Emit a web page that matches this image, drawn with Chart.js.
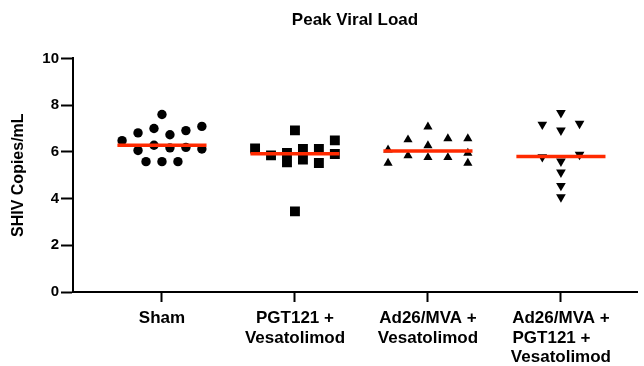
<!DOCTYPE html>
<html>
<head>
<meta charset="utf-8">
<script src="https://cdn.jsdelivr.net/npm/chart.js@4/dist/chart.umd.min.js"></script>
<style>
  html, body { margin: 0; padding: 0; background: #fff; }
  #wrap { width: 644px; height: 366px; position: relative; }
</style>
</head>
<body>
<div id="wrap"><canvas id="peakChart"></canvas></div>
<script>
const groupLabels = [
  ['Sham'],
  ['PGT121 +', 'Vesatolimod'],
  ['Ad26/MVA +', 'Vesatolimod'],
  ['Ad26/MVA +', 'PGT121 +    ', 'Vesatolimod']
];

// per-animal peak values (log10 copies/mL) and the horizontal spread of each dot
const shamValues = [6.48, 6.81, 6.06, 5.58, 7.00, 6.28, 7.60, 5.58, 6.73, 6.17, 5.58, 6.91, 6.19, 7.09, 6.12];
const shamJitter = [-0.30, -0.18, -0.18, -0.12, -0.06, -0.06, 0, 0, 0.06, 0.06, 0.12, 0.18, 0.18, 0.30, 0.30];

const pgtValues = [6.14, 5.85, 5.95, 5.55, 6.92, 6.12, 5.67, 6.12, 5.52, 6.49, 5.91, 3.45];
const pgtJitter = [-0.30, -0.18, -0.06, -0.06, 0, 0.06, 0.06, 0.18, 0.18, 0.30, 0.30, 0];

const adValues = [6.09, 5.52, 6.52, 5.84, 7.07, 6.27, 5.76, 6.57, 5.76, 6.57, 5.95, 5.52];
const adJitter = [-0.30, -0.30, -0.15, -0.15, 0, 0, 0, 0.15, 0.15, 0.30, 0.30, 0.30];

const comboValues = [7.17, 5.78, 7.67, 6.92, 5.59, 5.12, 4.55, 4.06, 7.21, 5.88];
const comboJitter = [-0.14, -0.14, 0, 0, 0, 0, 0, 0, 0.14, 0.14];

const medians = [6.28, 5.92, 6.04, 5.80];

const yTicks = [0, 2, 4, 6, 8, 10];

const pts = (vals, jit, pos) => vals.map((v, i) => ({ x: pos + jit[i], y: v }));
const BOLD = 'Liberation Sans, Arial, sans-serif';

const medianSets = medians.map((m, i) => ({
  type: 'line',
  data: [{ x: i + 1 - 0.335, y: m }, { x: i + 1 + 0.335, y: m }],
  borderColor: '#ff2a00', borderWidth: 3.5,
  pointRadius: 0, showLine: true, fill: false
}));

const scatterSets = [
  { data: pts(shamValues, shamJitter, 1), pointStyle: 'circle', pointRadius: 4.7 },
  { data: pts(pgtValues, pgtJitter, 2), pointStyle: 'rect', pointRadius: 7 },
  { data: pts(adValues, adJitter, 3), pointStyle: 'triangle', pointRadius: 5.3 },
  { data: pts(comboValues, comboJitter, 4), pointStyle: 'triangle', pointRadius: 5.6, rotation: 180 }
].map(d => Object.assign({
  type: 'scatter', backgroundColor: '#000', borderColor: '#000', borderWidth: 0
}, d));

new Chart(document.getElementById('peakChart'), {
  type: 'scatter',
  data: { datasets: [...medianSets, ...scatterSets] },
  options: {
    responsive: true,
    maintainAspectRatio: false,
    animation: false,
    layout: { padding: { left: 0, right: 7, top: 0, bottom: 0 } },
    plugins: {
      legend: { display: false },
      tooltip: { enabled: false },
      title: {
        display: true, text: 'Peak Viral Load', fullSize: false, color: '#000',
        font: { family: BOLD, size: 17, weight: 'bold' },
        padding: { top: 10, bottom: 28 }
      }
    },
    scales: {
      x: {
        type: 'linear', min: 0.331, max: 4.572,
        afterFit: s => { s.height = 74; },
        afterBuildTicks: s => { s.ticks = groupLabels.map((_, i) => ({ value: i + 1 })); },
        grid: { drawOnChartArea: false, tickLength: 10, tickColor: '#000', tickWidth: 2 },
        border: { color: '#000', width: 2 },
        ticks: {
          color: '#000', padding: 6, maxRotation: 0, autoSkip: false,
          font: { family: BOLD, size: 17, weight: 'bold', lineHeight: 1.17 },
          callback: v => groupLabels[v - 1]
        }
      },
      y: {
        min: 0, max: 10,
        afterFit: s => { s.width = 73; },
        afterBuildTicks: s => { s.ticks = yTicks.map(v => ({ value: v })); },
        grid: { drawOnChartArea: false, tickLength: 12, tickColor: '#000', tickWidth: 2 },
        border: { color: '#000', width: 2 },
        ticks: { color: '#000', padding: 2, font: { family: BOLD, size: 15, weight: 'bold' } },
        title: {
          display: true, text: 'SHIV Copies/mL', color: '#000',
          font: { family: BOLD, size: 16, weight: 'bold' },
          padding: { top: 9, bottom: 0 }
        }
      }
    }
  }
});
</script>
</body>
</html>
